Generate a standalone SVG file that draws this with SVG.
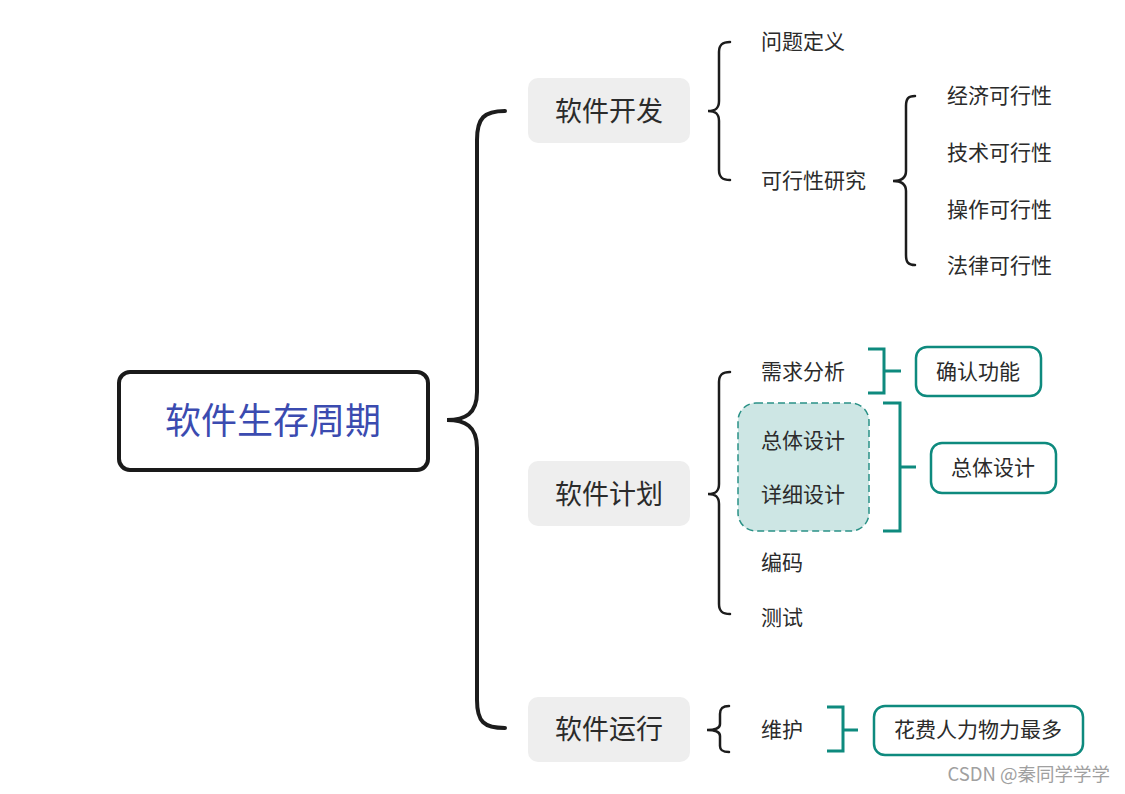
<svg xmlns="http://www.w3.org/2000/svg" width="1125" height="794" viewBox="0 0 1125 794">
<style>
text{font-family:"Noto Sans CJK SC","Noto Sans",sans-serif;fill:#2b2b2b;dominant-baseline:central}
.l1{font-size:27px;text-anchor:middle}
.t{font-size:21px}
.c{text-anchor:middle}
.g{fill:#eeeeee}
.br{fill:none;stroke:#1c1c1c;stroke-width:2.5;stroke-linecap:round}
.tb{fill:none;stroke:#0e8a7e;stroke-width:3}
.tbox{fill:#ffffff;stroke:#0e8a7e;stroke-width:2.5}
</style>
<rect width="1125" height="794" fill="#ffffff"/>
<g id="connectors">
<path class="br" style="stroke-width:4" d="M505,111 C484,111 477,118 477,140 L477,392 C477,414 465,420 447,420 C465,420 477,426 477,448 L477,700 C477,722 484,728 505,728"/>
<path class="br" d="M730,42 C722,42 719,45 719,52 L719,101 C719,108 716,111 708,111 C716,111 719,114 719,121 L719,170 C719,177 722,180 730,180"/>
<path class="br" d="M915,96 C908,96 906,99 906,106 L906,171 C906,178 902,181 893,181 C902,181 906,184 906,191 L906,255 C906,262 908,265 915,265"/>
<path class="br" d="M730,372 C722,372 719,375 719,382 L719,484 C719,491 716,494 708,494 C716,494 719,497 719,504 L719,604 C719,611 722,614 730,614"/>
<path class="br" d="M729,706 C722,706 720,709 720,714 L720,724 C720,728 716,730 707,730 C716,730 720,732 720,736 L720,746 C720,750 722,752 729,752"/>
<path class="tb" d="M868,349 L884,349 L884,393 L868,393 M884,371 L901,371"/>
<path class="tb" d="M883,403 L900,403 L900,531 L883,531 M900,467 L916,467"/>
<path class="tb" d="M827,707 L843,707 L843,751 L827,751 M843,730 L858,730"/>
</g>
<g id="root">
<rect x="119" y="372" width="309" height="98" rx="11" fill="#ffffff" stroke="#1a1a1a" stroke-width="4"/>
<text x="273" y="418" class="c" style="font-size:36px;fill:#3b4bb0">软件生存周期</text>
</g>
<g id="n-kaifa">
<rect class="g" x="528" y="78" width="162" height="65" rx="10"/>
<text class="l1" x="609" y="109">软件开发</text>
</g>
<g id="n-jihua">
<rect class="g" x="528" y="461" width="162" height="65" rx="10"/>
<text class="l1" x="609" y="492">软件计划</text>
</g>
<g id="n-yunxing">
<rect class="g" x="528" y="697" width="162" height="65" rx="10"/>
<text class="l1" x="609" y="727">软件运行</text>
</g>
<g id="n-wenti"><text class="t" x="761" y="40">问题定义</text></g>
<g id="n-kexing"><text class="t" x="761" y="179">可行性研究</text></g>
<g id="n-jingji"><text class="t" x="947" y="94">经济可行性</text></g>
<g id="n-jishu"><text class="t" x="947" y="151">技术可行性</text></g>
<g id="n-caozuo"><text class="t" x="947" y="208">操作可行性</text></g>
<g id="n-falv"><text class="t" x="947" y="264">法律可行性</text></g>
<g id="n-xuqiu"><text class="t" x="761" y="370">需求分析</text></g>
<g id="n-sheji-group">
<rect x="738" y="403" width="131" height="128" rx="18" fill="#cde6e4" stroke="#2a9186" stroke-width="1.5" stroke-dasharray="7 4"/>
</g>
<g id="n-zongti"><text class="t" x="761" y="439">总体设计</text></g>
<g id="n-xiangxi"><text class="t" x="761" y="493">详细设计</text></g>
<g id="n-bianma"><text class="t" x="761" y="561">编码</text></g>
<g id="n-ceshi"><text class="t" x="761" y="616">测试</text></g>
<g id="n-weihu"><text class="t" x="761" y="728">维护</text></g>
<g id="n-queren">
<rect class="tbox" x="916" y="347" width="125" height="49" rx="11"/>
<text class="t c" x="978" y="370">确认功能</text>
</g>
<g id="n-zongti2">
<rect class="tbox" x="931" y="443" width="125" height="50" rx="11"/>
<text class="t c" x="993" y="466">总体设计</text>
</g>
<g id="n-huafei">
<rect class="tbox" x="874" y="706" width="209" height="49" rx="11"/>
<text class="t c" x="978" y="728">花费人力物力最多</text>
</g>
<text x="1110" y="773" style="font-size:18.5px;fill:#a0a0a0;text-anchor:end">CSDN @秦同学学学</text>
</svg>
